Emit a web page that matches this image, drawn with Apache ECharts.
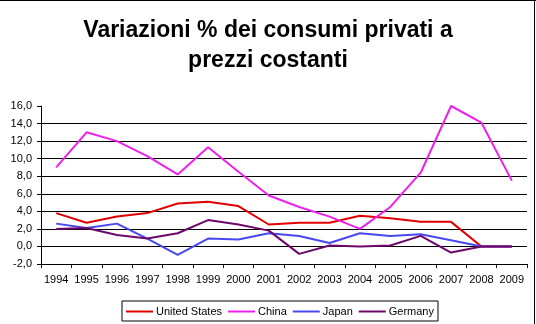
<!DOCTYPE html>
<html>
<head>
<meta charset="utf-8">
<script src="https://cdn.jsdelivr.net/npm/echarts@6/dist/echarts.min.js"></script>
<style>
html,body{margin:0;padding:0;background:#fff;}
#c{width:536px;height:324px;}
</style>
</head>
<body>
<div id="c"></div>
<script>
const years = ['1994','1995','1996','1997','1998','1999','2000','2001','2002','2003','2004','2005','2006','2007','2008','2009'];
const unitedStates = [3.8, 2.7, 3.4, 3.8, 4.9, 5.1, 4.6, 2.5, 2.7, 2.7, 3.5, 3.2, 2.8, 2.8, 0.0, 0.0];
const china = [9.0, 13.0, 12.0, 10.3, 8.2, 11.3, 8.5, 5.8, 4.5, 3.4, 2.0, 4.5, 8.4, 16.0, 14.1, 7.5];
const japan = [2.6, 2.1, 2.6, 0.9, -0.95, 0.9, 0.8, 1.5, 1.2, 0.4, 1.5, 1.2, 1.4, 0.7, 0.0, 0.0];
const germany = [2.0, 2.1, 1.3, 0.9, 1.5, 3.0, 2.5, 1.8, -0.85, 0.1, 0.0, 0.1, 1.2, -0.7, 0.0, 0.0];
const titleText = 'Variazioni % dei consumi privati a\nprezzi costanti';

const font = 'Liberation Sans, Arial, sans-serif';
const chart = echarts.init(document.getElementById('c'), null, {renderer: 'canvas'});
function mk(name, data, color) {
  return {name, type: 'line', data, symbol: 'none', smooth: false,
    lineStyle: {color, width: 2}, itemStyle: {color}};
}
chart.setOption({
  backgroundColor: '#fff',
  animation: false,
  title: {
    text: titleText, left: 'center', top: 11,
    textStyle: {fontFamily: font, fontSize: 23, fontWeight: 'bold', color: '#000', lineHeight: 30}
  },
  grid: {left: 41, right: 9, top: 106, bottom: 60, containLabel: false},
  xAxis: {
    type: 'category', data: years, boundaryGap: true,
    axisLine: {onZero: false, lineStyle: {color: '#000', width: 1}},
    axisTick: {show: true, length: 4, inside: false, lineStyle: {color: '#000'}},
    axisLabel: {fontFamily: font, fontSize: 11, color: '#000', margin: 10, interval: 0}
  },
  yAxis: {
    type: 'value', min: -2, max: 16, interval: 2,
    axisLine: {show: true, lineStyle: {color: '#000', width: 1}},
    axisTick: {show: true, length: 4, lineStyle: {color: '#000'}},
    axisLabel: {fontFamily: font, fontSize: 11, color: '#000', margin: 9,
      formatter: v => v.toFixed(1).replace('.', ',')},
    splitLine: {show: true, lineStyle: {color: ['#000','#000','#000','#000','#000','#000','#000','#000','#000','rgba(0,0,0,0)'], width: 1}}
  },
  legend: {
    left: 122, top: 301, orient: 'horizontal',
    borderColor: '#000', borderWidth: 1, borderRadius: 0, padding: [5, 4, 4, 4],
    icon: 'rect', itemWidth: 27, itemHeight: 2, itemGap: 6,
    textStyle: {fontFamily: font, fontSize: 11, color: '#000', padding: [0, 0, 0, -2]},
    data: ['United States', 'China', 'Japan', 'Germany']
  },
  graphic: [
    {type: 'line', shape: {x1: 0, y1: 0.5, x2: 536, y2: 0.5}, style: {stroke: '#000', lineWidth: 1}, silent: true},
    {type: 'line', shape: {x1: 534.5, y1: 0, x2: 534.5, y2: 324}, style: {stroke: '#000', lineWidth: 1}, silent: true}
  ],
  series: [
    mk('United States', unitedStates, '#e00000'),
    mk('China', china, '#ee20ee'),
    mk('Japan', japan, '#4848f0'),
    mk('Germany', germany, '#6c086c')
  ]
});
</script>
</body>
</html>
